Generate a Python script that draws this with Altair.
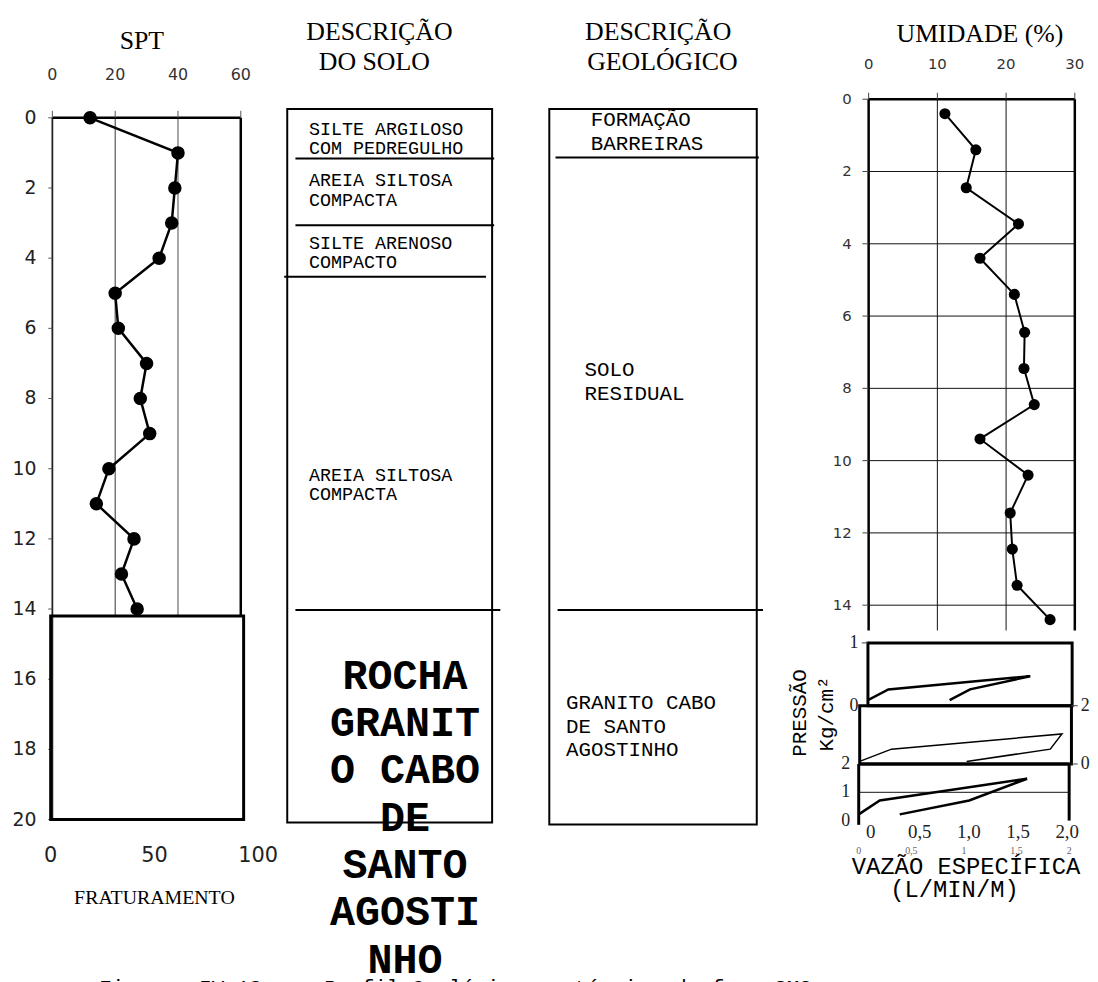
import altair as alt
import pandas as pd

# ---------------- data ----------------
spt_depth = [0, 1, 2, 3, 4, 5, 6, 7, 8, 9, 10, 11, 12, 13, 14]
spt_value = [12, 40, 39, 38, 34, 20, 21, 30, 28, 31, 18, 14, 26, 22, 27]

umid_depth = [0.4, 1.4, 2.45, 3.45, 4.4, 5.4, 6.45, 7.45, 8.45, 9.4, 10.4, 11.45, 12.45, 13.45, 14.4]
umid_value = [11.1, 15.6, 14.2, 21.8, 16.2, 21.2, 22.7, 22.6, 24.1, 16.2, 23.2, 20.6, 20.9, 21.6, 26.4]

rock_top = 14.2
rock_frat = 93
depth_ticks = [0, 2, 4, 6, 8, 10, 12, 14, 16, 18, 20]
spt_ticks = [0, 20, 40, 60]
frat_ticks = [0, 50, 100]
umid_x_ticks = [0, 10, 20, 30]
umid_y_ticks = [0, 2, 4, 6, 8, 10, 12, 14]
umid_bottom = 14.7

solo_bounds = [1.16, 3.06, 4.53, 14.03]
solo_bounds_x0 = [0.04, 0.04, -0.015, 0.04]
solo_bounds_x1 = [1.01, 1.01, 0.97, 1.04]
geo_bounds = [1.13, 14.03]
geo_bounds_x0 = [0.03, 0.04]
geo_bounds_x1 = [1.01, 1.03]

solo_texts = ["SILTE ARGILOSO\nCOM PEDREGULHO", "AREIA SILTOSA\nCOMPACTA",
              "SILTE ARENOSO\nCOMPACTO", "AREIA SILTOSA\nCOMPACTA"]
solo_text_depth = [0.31, 1.78, 3.56, 10.18]
rock_text = "ROCHA\nGRANIT\nO CABO\nDE\nSANTO\nAGOSTI\nNHO"
rock_text_depth = 15.9

geo_texts = ["FORMAÇÃO\nBARREIRAS", "SOLO\nRESIDUAL", "GRANITO CABO\nDE SANTO\nAGOSTINHO"]
geo_text_depth = [0.07, 7.19, 16.69]
geo_text_x = [0.2, 0.17, 0.08]

p1_q = [0, 0.2, 1.59, 1.0, 0.8]
p1_p = [0.09, 0.26, 0.47, 0.26, 0.09]
p2_q = [0, 0.3, 1.91, 1.8, 1.01]
p2_p = [0.09, 0.51, 1.03, 0.51, 0.09]
p3_q = [0, 0.2, 1.6, 1.05, 0.39]
p3_p = [0.22, 0.71, 1.48, 0.71, 0.22]
vazao_ticks = [0, 0.5, 1.0, 1.5, 2.0]
vazao_labels = ["0", "0,5", "1,0", "1,5", "2,0"]
vazao_small = ["0", "0,5", "1", "1,5", "2"]

NB = "\u00a0"
caption = f"Figura{NB}{NB}IV.13{NB}{NB}–{NB}{NB}Perfil Geológico-geotécnico do furo SM2"

# ---------------- scales (panel layout) ----------------
def S(domain, rng):
    return alt.Scale(domain=domain, range=rng, nice=False, zero=False)

SPT_X = S([0, 60], [44.7, 234.5])
DEPTH = S([0, 20], [107, 814])
FRAT_X = S([0, 100], [43, 252])
SOLO_X = S([0, 1], [281.3, 487.7])
GEO_X = S([0, 1], [545.3, 754.3])
UM_X = S([0, 30], [867, 1074.7])
UM_Y = S([0, 14], [88.3, 598])
P1_X = S([0, 2], [866.3, 1072])
P1_Y = S([0, 1], [699.3, 636])
P2_X = S([0, 2], [858, 1071.3])
P2_Y = S([0, 2], [758, 699.3])
P3_X = S([0, 2], [857, 1069])
P3_Y = S([0, 2], [815, 758])
PB_X = S([0, 2], [869, 1067])

SERIF = "Liberation Serif"
SANS = "DejaVu Sans"
MONO = "Liberation Mono"
NARROW = "Liberation Sans Narrow"


def X(f, sc):
    return alt.X(f, type="quantitative", scale=sc, axis=None)


def Y(f, sc):
    return alt.Y(f, type="quantitative", scale=sc, axis=None)


def seg(xs, ys, x, x2, y, y2, **mk):
    df = pd.DataFrame({"x": x, "x2": x2, "y": y, "y2": y2})
    mk.setdefault("color", "black")
    return alt.Chart(df).mark_rule(**mk).encode(
        x=X("x", xs), x2=alt.X2("x2"), y=Y("y", ys), y2=alt.Y2("y2"))


def box(xs, ys, x, x2, y, y2, **mk):
    df = pd.DataFrame({"x": [x], "x2": [x2], "y": [y], "y2": [y2]})
    return alt.Chart(df).mark_rect(filled=False, color="black", **mk).encode(
        x=X("x", xs), x2=alt.X2("x2"), y=Y("y", ys), y2=alt.Y2("y2"))


def txt(xs, ys, x, y, t, **mk):
    df = pd.DataFrame({"x": x, "y": y, "t": t})
    mk.setdefault("color", "black")
    return alt.Chart(df).mark_text(**mk).encode(
        x=X("x", xs), y=Y("y", ys), text="t:N")


def path(xs, ys, x, y, **mk):
    df = pd.DataFrame({"x": x, "y": y, "o": list(range(len(x)))})
    return alt.Chart(df).mark_line(color="black", **mk).encode(
        x=X("x", xs), y=Y("y", ys), order="o:Q")


def dots(xs, ys, x, y, size):
    df = pd.DataFrame({"x": x, "y": y})
    return alt.Chart(df).mark_circle(color="black", opacity=1, size=size).encode(
        x=X("x", xs), y=Y("y", ys))


def rep(v, n):
    return [v] * n


layers = []

# ---------------- SPT panel ----------------
n = len(spt_ticks)
tick_d = 7 / 35.35
layers += [
    seg(SPT_X, DEPTH, [20], [20], [0], [rock_top], strokeWidth=1, color="#333"),
    seg(SPT_X, DEPTH, [40], [40], [0], [rock_top], strokeWidth=1.3, color="#777"),
    seg(SPT_X, DEPTH, [0], [0], [0], [20], strokeWidth=1.8, color="#222"),
    seg(SPT_X, DEPTH, [0], [60], [0], [0], strokeWidth=2.5),
    seg(SPT_X, DEPTH, [60], [60], [0], [rock_top], strokeWidth=2.5),
    seg(SPT_X, DEPTH, spt_ticks, spt_ticks, rep(-tick_d, n), rep(0, n), strokeWidth=1, color="#555"),
    seg(SPT_X, DEPTH, rep(-1.3, len(depth_ticks)), rep(0, len(depth_ticks)), depth_ticks, depth_ticks,
        strokeWidth=1, color="#555"),
    txt(SPT_X, DEPTH, spt_ticks, rep(0, n), [str(v) for v in spt_ticks], dy=-43,
        font=SANS, fontSize=16, color="#333"),
    txt(SPT_X, DEPTH, rep(0, len(depth_ticks)), depth_ticks, [str(v) for v in depth_ticks],
        dx=-16, align="right", font=SANS, fontSize=19, color="#222"),
    txt(SPT_X, DEPTH, [28.5], [0], ["SPT"], dy=-77, font=SERIF, fontSize=26),
    path(SPT_X, DEPTH, spt_value, spt_depth, strokeWidth=2.5),
    dots(SPT_X, DEPTH, spt_value, spt_depth, 185),
    box(FRAT_X, DEPTH, 0, rock_frat, rock_top, 20, strokeWidth=3),
    txt(FRAT_X, DEPTH, frat_ticks, rep(20, 3), [str(v) for v in frat_ticks], dy=37,
        font=SANS, fontSize=21, color="#222"),
    txt(FRAT_X, DEPTH, [50], [20], ["FRATURAMENTO"], dy=79, font=SERIF, fontSize=20),
]

# ---------------- Descrição do solo ----------------
layers += [
    box(SOLO_X, DEPTH, 0, 1, -0.25, 20.08, strokeWidth=2),
    seg(SOLO_X, DEPTH, solo_bounds_x0, solo_bounds_x1, solo_bounds, solo_bounds, strokeWidth=2),
    txt(SOLO_X, DEPTH, rep(0.106, 4), solo_text_depth, solo_texts, align="left",
        lineBreak="\n", lineHeight=19.5, font=MONO, fontSize=18.5),
    txt(SOLO_X, DEPTH, [0.575], [rock_text_depth], [rock_text], lineBreak="\n",
        lineHeight=47.7, font=MONO, fontSize=42, fontWeight="bold"),
    txt(SOLO_X, DEPTH, [0.45], [0], ["DESCRIÇÃO"], dy=-86, font=SERIF, fontSize=26),
    txt(SOLO_X, DEPTH, [0.425], [0], ["DO SOLO"], dy=-56, font=SERIF, fontSize=26),
]

# ---------------- Descrição geológico ----------------
layers += [
    box(GEO_X, DEPTH, 0, 1, -0.25, 20.14, strokeWidth=2),
    seg(GEO_X, DEPTH, geo_bounds_x0, geo_bounds_x1, geo_bounds, geo_bounds, strokeWidth=2),
    txt(GEO_X, DEPTH, geo_text_x, geo_text_depth, geo_texts, align="left",
        lineBreak="\n", lineHeight=23.7, font=MONO, fontSize=21),
    txt(GEO_X, DEPTH, [0.525], [0], ["DESCRIÇÃO"], dy=-86, font=SERIF, fontSize=26),
    txt(GEO_X, DEPTH, [0.545], [0], ["GEOLÓGICO"], dy=-56, font=SERIF, fontSize=26),
]

# ---------------- Umidade ----------------
nu = len(umid_y_ticks)
layers += [
    seg(UM_X, UM_Y, rep(0, nu), rep(30, nu), umid_y_ticks, umid_y_ticks, strokeWidth=1, color="#111"),
    seg(UM_X, UM_Y, [10, 20], [10, 20], [0, 0], [umid_bottom, umid_bottom], strokeWidth=1, color="#111"),
    seg(UM_X, UM_Y, [0, 30], [0, 30], [0, 0], [umid_bottom, umid_bottom], strokeWidth=2.5),
    seg(UM_X, UM_Y, [0], [30], [0], [0], strokeWidth=2.5),
    seg(UM_X, UM_Y, umid_x_ticks, umid_x_ticks, rep(-0.18, 4), rep(0, 4), strokeWidth=1, color="#444"),
    seg(UM_X, UM_Y, rep(-0.9, nu), rep(0, nu), umid_y_ticks, umid_y_ticks, strokeWidth=1, color="#444"),
    txt(UM_X, UM_Y, umid_x_ticks, rep(0, 4), [str(v) for v in umid_x_ticks], dy=-35,
        font=SANS, fontSize=15, color="#333"),
    txt(UM_X, UM_Y, rep(0, nu), umid_y_ticks, [str(v) for v in umid_y_ticks], dx=-17,
        align="right", font=SANS, fontSize=15, color="#333"),
    txt(UM_X, UM_Y, [16.2], [0], ["UMIDADE (%)"], dy=-66, font=SERIF, fontSize=26),
    path(UM_X, UM_Y, umid_value, umid_depth, strokeWidth=2),
    dots(UM_X, UM_Y, umid_value, umid_depth, 125),
]

# ---------------- Pressão / vazão ----------------
layers += [
    box(P1_X, P1_Y, 0, 2, 0, 1, strokeWidth=3),
    path(P1_X, P1_Y, p1_q, p1_p, strokeWidth=2.5),
    seg(P1_X, P1_Y, [-0.06], [0], [1], [1], strokeWidth=1, color="#444"),
    txt(P1_X, P1_Y, [0, 0], [1, 0], ["1", "0"], dx=-14, font=NARROW, fontSize=18, color="#222"),

    box(P2_X, P2_Y, 0, 2, 0, 2, strokeWidth=3),
    path(P2_X, P2_Y, p2_q, p2_p, strokeWidth=1.5),
    seg(P2_X, P2_Y, [2, 2], [2.06, 2.06], [2, 0], [2, 0], strokeWidth=1, color="#444"),
    txt(P2_X, P2_Y, [2, 2], [2, 0], ["2", "0"], dx=14, font=NARROW, fontSize=18, color="#222"),

    seg(P3_X, P3_Y, [0], [2], [2], [2], strokeWidth=3),
    seg(P3_X, P3_Y, [0, 2], [0, 2], [2, 2], [-0.15, 0.0], strokeWidth=3),
    seg(P3_X, P3_Y, [0], [2], [1], [1], strokeWidth=1, color="#111"),
    path(P3_X, P3_Y, p3_q, p3_p, strokeWidth=2.5),
    txt(P3_X, P3_Y, [0, 0, 0], [2, 1, 0], ["2", "1", "0"], dx=-13, font=NARROW, fontSize=18, color="#222"),

    txt(PB_X, P3_Y, vazao_ticks, rep(0, 5), vazao_labels, dy=12, font=NARROW, fontSize=19, color="#222"),
    txt(P3_X, P3_Y, vazao_ticks, rep(0, 5), vazao_small, dy=31, font=NARROW, fontSize=10, color="#666"),
    txt(P3_X, P3_Y, [1.02], [0], ["VAZÃO ESPECÍFICA"], dy=47, font=MONO, fontSize=24),
    txt(P3_X, P3_Y, [0.91], [0], ["(L/MIN/M)"], dy=70, font=MONO, fontSize=24),

    txt(P2_X, P2_Y, [-0.56], [1.75], ["PRESSÃO"], angle=270, font=MONO, fontSize=21),
    txt(P2_X, P2_Y, [-0.31], [1.72], ["Kg/cm²"], angle=270, font=MONO, fontSize=21),
]

# ---------------- caption (cut by the page edge as in the original) ----------------
layers.append(
    alt.Chart(pd.DataFrame({"t": [caption]})).mark_text(
        align="left", baseline="top", font=MONO, fontSize=21, color="black"
    ).encode(x=alt.value(92), y=alt.value(973), text="t:N")
)

chart = (
    alt.layer(*layers)
    .resolve_scale(x="independent", y="independent")
    .properties(width=1090, height=974, padding=0,
                autosize=alt.AutoSizeParams(type="none"))
    .configure_view(stroke=None)
)

chart.save("out.html", embed_options={"renderer": "svg", "actions": False})
